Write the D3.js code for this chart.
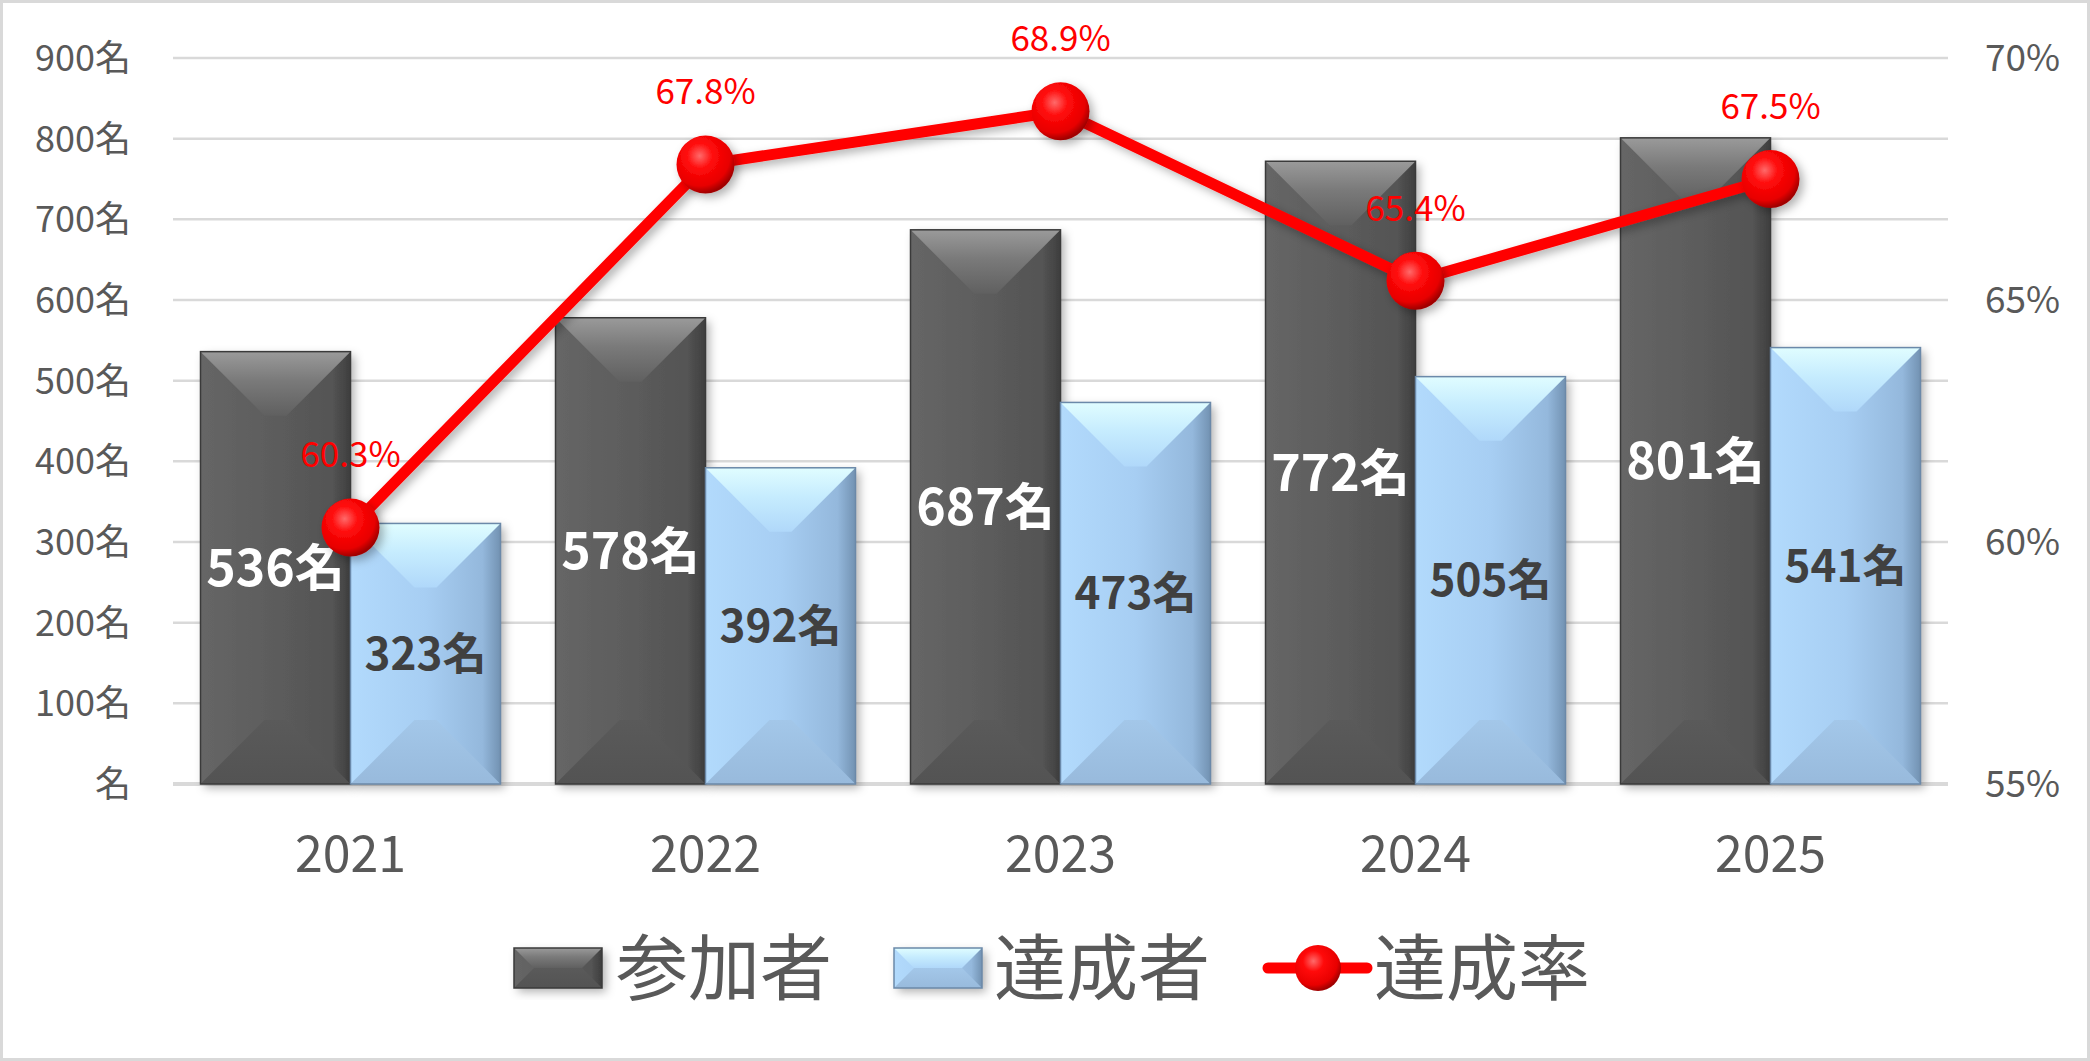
<!DOCTYPE html>
<html>
<head>
<meta charset="utf-8">
<script src="https://cdn.jsdelivr.net/npm/d3@7"></script>
<style>
  body { margin: 0; background: #fff; }
  text { font-family: "Noto Sans CJK JP", "Noto Sans", sans-serif; }
</style>
</head>
<body>
<svg width="2090" height="1061"></svg>
<script>
//data
var years = ["2021", "2022", "2023", "2024", "2025"];
var participants = [536, 578, 687, 772, 801];
var achievers = [323, 392, 473, 505, 541];
var rates = [60.3, 67.8, 68.9, 65.4, 67.5];
var leftTicks = [0, 100, 200, 300, 400, 500, 600, 700, 800, 900];
var rightTicks = [55, 60, 65, 70];
var seriesNames = ["参加者", "達成者", "達成率"];

var svg = d3.select("svg"),
    width = +svg.attr("width"),
    height = +svg.attr("height");

var plotLeft = 173, plotRight = 1948, plotTop = 58, plotBottom = 784;

var x = d3.scaleBand().domain(years).range([plotLeft, plotRight])
    .paddingInner(0.155).paddingOuter(0.0775);
var xSub = d3.scaleBand().domain([0, 1]).range([0, x.bandwidth()]);
var yL = d3.scaleLinear().domain([0, 900]).range([plotBottom, plotTop]);
var yR = d3.scaleLinear().domain([55, 70]).range([plotBottom, plotTop]);

//gradients and filters
var defs = svg.append("defs");

function linGrad(id, x2, y2, stops) {
  var g = defs.append("linearGradient").attr("id", id)
      .attr("x1", 0).attr("y1", 0).attr("x2", x2).attr("y2", y2);
  stops.forEach(function(s) {
    g.append("stop").attr("offset", s[0]).attr("stop-color", s[1]);
  });
}
linGrad("graySide", 1, 0, [["0%", "#666666"], ["50%", "#5c5c5c"], ["88%", "#545454"], ["100%", "#3e3e3e"]]);
linGrad("grayTop", 0, 1, [["0%", "#9a9a9a"], ["45%", "#7a7a7a"], ["100%", "#606060"]]);
linGrad("grayBottom", 0, 1, [["0%", "#5a5a5a"], ["100%", "#535353"]]);
linGrad("blueSide", 1, 0, [["0%", "#b2dafc"], ["50%", "#a7cef3"], ["88%", "#94b8dc"], ["100%", "#7292b2"]]);
linGrad("blueTop", 0, 1, [["0%", "#e0fdff"], ["45%", "#c6ecfe"], ["100%", "#b0d8fa"]]);
linGrad("blueBottom", 0, 1, [["0%", "#a3c7e9"], ["100%", "#98badc"]]);

var rg = defs.append("radialGradient").attr("id", "ball")
    .attr("cx", "40%").attr("cy", "35%").attr("r", "65%");
rg.append("stop").attr("offset", "0%").attr("stop-color", "#ff6a6a");
rg.append("stop").attr("offset", "35%").attr("stop-color", "#ff0a0a");
rg.append("stop").attr("offset", "80%").attr("stop-color", "#e80000");
rg.append("stop").attr("offset", "100%").attr("stop-color", "#a00000");

var sh = defs.append("filter").attr("id", "shadow")
    .attr("x", "-20%").attr("y", "-20%").attr("width", "150%").attr("height", "150%");
sh.append("feDropShadow").attr("dx", 4).attr("dy", 4).attr("stdDeviation", 5)
    .attr("flood-color", "#000").attr("flood-opacity", 0.3);

//outer border
svg.append("rect").attr("x", 1.5).attr("y", 1.5)
    .attr("width", width - 3).attr("height", height - 3)
    .attr("fill", "#fff").attr("stroke", "#d9d9d9").attr("stroke-width", 3);

//gridlines
svg.append("g").selectAll("line").data(leftTicks).enter().append("line")
    .attr("x1", plotLeft).attr("x2", plotRight)
    .attr("y1", function(d) { return yL(d); })
    .attr("y2", function(d) { return yL(d); })
    .attr("stroke", "#d9d9d9")
    .attr("stroke-width", function(d) { return d === 0 ? 4 : 2.5; });

//left axis labels
svg.append("g").selectAll("text").data(leftTicks).enter().append("text")
    .attr("x", 131).attr("y", function(d) { return yL(d); })
    .attr("dy", "0.36em").attr("text-anchor", "end")
    .attr("font-size", 36).attr("fill", "#595959")
    .text(function(d) { return (d === 0 ? "" : d) + "名"; });

//right axis labels
svg.append("g").selectAll("text").data(rightTicks).enter().append("text")
    .attr("x", 1985).attr("y", function(d) { return yR(d); })
    .attr("dy", "0.36em").attr("text-anchor", "start")
    .attr("font-size", 37).attr("fill", "#595959")
    .text(function(d) { return d + "%"; });

//category labels
svg.append("g").selectAll("text").data(years).enter().append("text")
    .attr("x", function(d) { return x(d) + x.bandwidth() / 2; })
    .attr("y", 872).attr("text-anchor", "middle")
    .attr("font-size", 50).attr("fill", "#595959")
    .text(function(d) { return d; });

//bevelled bar
function bevelBar(g, bx, by, bw, bh, kind) {
  var b = Math.min(64, bw / 2, bh / 2);
  var bar = g.append("g");
  bar.append("rect").attr("x", bx).attr("y", by).attr("width", bw).attr("height", bh)
      .attr("fill", "url(#" + kind + "Side)").attr("filter", "url(#shadow)");
  bar.append("polygon")
      .attr("points", [[bx, by], [bx + bw, by], [bx + bw - b, by + b], [bx + b, by + b]].join(" "))
      .attr("fill", "url(#" + kind + "Top)");
  bar.append("polygon")
      .attr("points", [[bx, by + bh], [bx + bw, by + bh], [bx + bw - b, by + bh - b], [bx + b, by + bh - b]].join(" "))
      .attr("fill", "url(#" + kind + "Bottom)");
  bar.append("rect").attr("x", bx).attr("y", by).attr("width", bw).attr("height", bh)
      .attr("fill", "none").attr("stroke", kind === "gray" ? "#3a3a3a" : "#6b89a9")
      .attr("stroke-width", 1.5);
}

var bars = svg.append("g");
years.forEach(function(yr, i) {
  var x0 = x(yr);
  bevelBar(bars, x0 + xSub(0), yL(participants[i]), xSub.bandwidth(), yL(0) - yL(participants[i]), "gray");
  bevelBar(bars, x0 + xSub(1), yL(achievers[i]), xSub.bandwidth(), yL(0) - yL(achievers[i]), "blue");
});

//bar labels
svg.append("g").selectAll("text").data(participants).enter().append("text")
    .attr("x", function(d, i) { return x(years[i]) + xSub(0) + xSub.bandwidth() / 2; })
    .attr("y", function(d) { return (yL(d) + yL(0)) / 2; })
    .attr("dy", "0.36em").attr("text-anchor", "middle")
    .attr("font-size", 50).attr("font-weight", "bold").attr("fill", "#fff")
    .text(function(d) { return d + "名"; });

svg.append("g").selectAll("text").data(achievers).enter().append("text")
    .attr("x", function(d, i) { return x(years[i]) + xSub(1) + xSub.bandwidth() / 2; })
    .attr("y", function(d) { return (yL(d) + yL(0)) / 2; })
    .attr("dy", "0.36em").attr("text-anchor", "middle")
    .attr("font-size", 44).attr("font-weight", "bold").attr("fill", "#404040")
    .text(function(d) { return d + "名"; });

//rate line
var cx = function(d, i) { return x(years[i]) + x.bandwidth() / 2; };
var line = d3.line().x(cx).y(function(d) { return yR(d); });

svg.append("path").datum(rates)
    .attr("d", line).attr("fill", "none")
    .attr("stroke", "#ff0000").attr("stroke-width", 11)
    .attr("stroke-linejoin", "round").attr("filter", "url(#shadow)");

svg.append("g").selectAll("circle").data(rates).enter().append("circle")
    .attr("cx", cx).attr("cy", function(d) { return yR(d); })
    .attr("r", 29).attr("fill", "url(#ball)").attr("filter", "url(#shadow)");

svg.append("g").selectAll("text").data(rates).enter().append("text")
    .attr("x", cx).attr("y", function(d) { return yR(d) - 60; })
    .attr("text-anchor", "middle")
    .attr("font-size", 35).attr("fill", "#ff0000")
    .text(function(d) { return d.toFixed(1) + "%"; });

//legend
var legend = svg.append("g");
var legY = 968;
bevelBar(legend, 514, legY - 20, 88, 40, "gray");
bevelBar(legend, 894, legY - 20, 88, 40, "blue");
legend.append("line").attr("x1", 1268).attr("x2", 1367)
    .attr("y1", legY).attr("y2", legY)
    .attr("stroke", "#ff0000").attr("stroke-width", 11).attr("stroke-linecap", "round");
legend.append("circle").attr("cx", 1318).attr("cy", legY).attr("r", 23)
    .attr("fill", "url(#ball)");

legend.selectAll("text").data(seriesNames).enter().append("text")
    .attr("x", function(d, i) { return [616, 994, 1374][i]; })
    .attr("y", legY).attr("dy", "0.36em")
    .attr("font-size", 72).attr("fill", "#595959")
    .text(function(d) { return d; });
</script>
</body>
</html>
